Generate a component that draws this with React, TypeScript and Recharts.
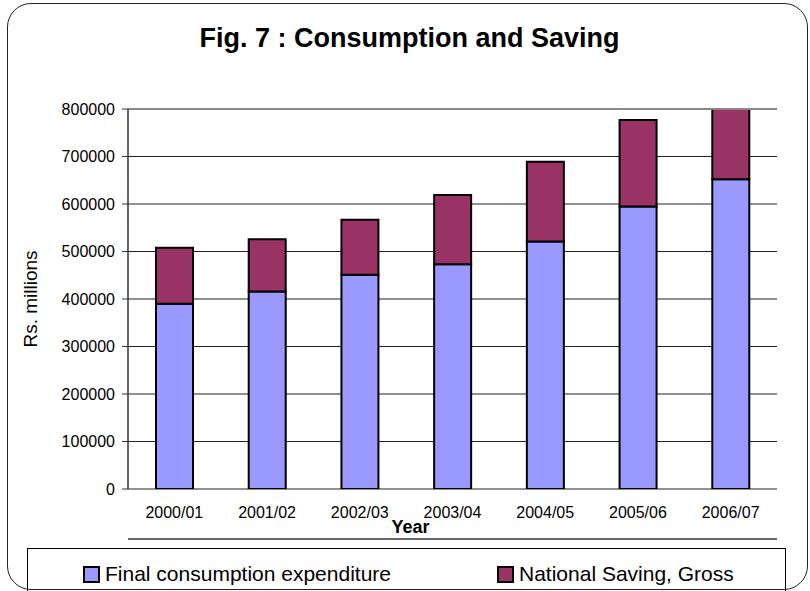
import { BarChart, Bar, XAxis, YAxis, CartesianGrid, Legend, ReferenceLine } from 'recharts';

const years = ['2000/01', '2001/02', '2002/03', '2003/04', '2004/05', '2005/06', '2006/07'];
const consumption = [390000, 416000, 451000, 473000, 521000, 595000, 652000];
const saving = [118000, 110000, 116000, 146000, 168000, 182000, 165000];
const yTicks = [0, 100000, 200000, 300000, 400000, 500000, 600000, 700000, 800000];
// category boundaries for the little x-axis tick marks
const boundaries = [0, 1, 2, 3, 4, 5, 6, 7];

const chartData = years.map((year, i) => ({
  year,
  consumption: consumption[i],
  saving: saving[i],
}));

const FONT = 'Arial, "Liberation Sans", sans-serif';

const renderLegend = (props: any) => {
  const { payload } = props;
  return (
    <div style={{ display: 'flex', alignItems: 'center', paddingLeft: 55, paddingTop: 13, fontFamily: FONT, fontSize: 21 }}>
      {payload.map((entry: any, i: number) => (
        <div key={entry.value} style={{ display: 'flex', alignItems: 'center', marginRight: i === 0 ? 106 : 0 }}>
          <span
            style={{
              display: 'inline-block',
              width: 13,
              height: 13,
              background: entry.color,
              border: '2px solid #000',
              marginRight: 5,
            }}
          />
          <span style={{ color: '#000' }}>{entry.value}</span>
        </div>
      ))}
    </div>
  );
};

export default function App() {
  return (
    <div style={{ position: 'absolute', left: 0, top: 0, width: 810, height: 591, overflow: 'hidden', background: '#fff' }}>
      <div
        style={{
          position: 'absolute',
          left: 7,
          top: 3,
          width: 799,
          height: 585,
          border: '1.5px solid #222',
          borderRadius: 24,
        }}
      />
      <div
        style={{
          position: 'absolute',
          left: 0,
          top: 25,
          width: 819,
          textAlign: 'center',
          fontFamily: FONT,
          fontWeight: 'bold',
          fontSize: 27,
          lineHeight: '27px',
          color: '#000',
        }}
      >
        Fig. 7 : Consumption and Saving
      </div>
      <BarChart
        width={810}
        height={591}
        data={chartData}
        margin={{ top: 109, right: 33, left: 28, bottom: 51 }}
        style={{ position: 'absolute', left: 0, top: 0 }}
      >
        <CartesianGrid vertical={false} stroke="#222" strokeWidth={1} />
        <XAxis
          xAxisId="grid"
          type="number"
          domain={[0, 7]}
          ticks={boundaries}
          allowDataOverflow
          interval={0}
          tick={false}
          tickSize={6}
          tickLine={{ stroke: '#333' }}
          axisLine={{ stroke: '#333', strokeWidth: 1.5 }}
          height={1}
        />
        <XAxis
          xAxisId="cat"
          dataKey="year"
          axisLine={false}
          tickLine={false}
          tickSize={0}
          tickMargin={18}
          height={50}
          interval={0}
          tick={{ fill: '#000', fontSize: 16, fontFamily: FONT }}
          label={{
            value: 'Year',
            position: 'insideBottom',
            offset: 6,
            dx: -42,
            fill: '#000',
            fontSize: 18,
            fontWeight: 'bold',
            fontFamily: FONT,
          }}
        />
        <YAxis
          domain={[0, 800000]}
          ticks={yTicks}
          allowDataOverflow
          interval={0}
          width={100}
          tickSize={6}
          tickMargin={7}
          tickLine={{ stroke: '#333' }}
          axisLine={{ stroke: '#333', strokeWidth: 1.5 }}
          tick={{ fill: '#000', fontSize: 16, fontFamily: FONT }}
          label={{
            value: 'Rs. millions',
            angle: -90,
            position: 'insideLeft',
            offset: 2,
            fill: '#000',
            fontSize: 19,
            fontFamily: FONT,
            style: { textAnchor: 'middle' },
          }}
        />
        <ReferenceLine y={800000} stroke="#888" strokeWidth={2} />
        <ReferenceLine xAxisId="grid" x={7} stroke="#888" strokeWidth={2} />
        <Legend verticalAlign="middle" align="center" content={renderLegend} wrapperStyle={{ left: 27, top: 548, width: 759, height: 60, border: '1px solid #000', boxSizing: 'border-box' }} />
        <Bar
          xAxisId="cat"
          dataKey="consumption"
          name="Final consumption expenditure"
          stackId="a"
          fill="#9999FF"
          stroke="#000"
          strokeWidth={2}
          barSize={37}
          isAnimationActive={false}
        />
        <Bar
          xAxisId="cat"
          dataKey="saving"
          name="National Saving, Gross"
          stackId="a"
          fill="#993366"
          stroke="#000"
          strokeWidth={2}
          barSize={37}
          isAnimationActive={false}
        />
      </BarChart>
    </div>
  );
}
